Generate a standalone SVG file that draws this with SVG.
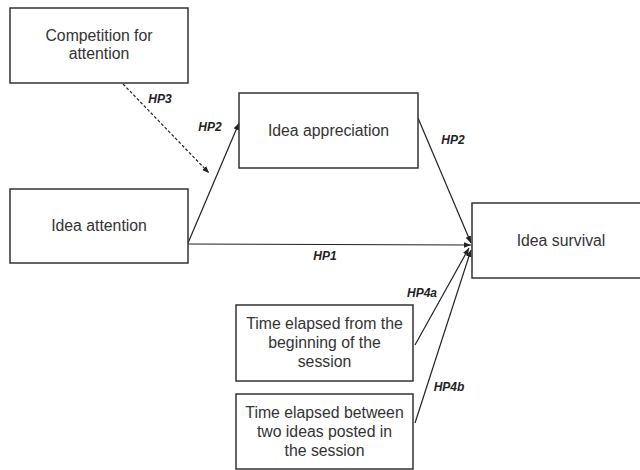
<svg xmlns="http://www.w3.org/2000/svg" width="640" height="470" viewBox="0 0 640 470">
<style>
.box{fill:#fff;stroke:#333;stroke-width:1.5}
.t{font-family:"Liberation Sans",Arial,sans-serif;font-size:15.8px;fill:#333;text-anchor:middle}
.lab{font-family:"Liberation Sans",Arial,sans-serif;font-size:12px;font-weight:bold;font-style:italic;fill:#222;text-anchor:middle}
.ln{stroke:#222;stroke-width:1.2;fill:none}
</style>
<defs>
<marker id="ah" viewBox="0 0 10 10" refX="10" refY="5" markerWidth="7" markerHeight="7" orient="auto" markerUnits="userSpaceOnUse">
<path d="M0,1 L10,5 L0,9 Z" fill="#222"/>
</marker>
</defs>
<rect width="640" height="470" fill="#fff"/>
<g id="connectors">
<line class="ln" x1="123" y1="84" x2="209" y2="173" stroke-dasharray="3,2" marker-end="url(#ah)"/>
<line class="ln" x1="188" y1="243" x2="239" y2="123" marker-end="url(#ah)"/>
<line class="ln" x1="418" y1="118" x2="471" y2="243" marker-end="url(#ah)"/>
<line class="ln" x1="188" y1="244" x2="471" y2="245" marker-end="url(#ah)"/>
<line class="ln" x1="415" y1="345" x2="469" y2="248" marker-end="url(#ah)"/>
<line class="ln" x1="415" y1="423" x2="471" y2="250" marker-end="url(#ah)"/>
<text class="lab" x="160" y="103">HP3</text>
<text class="lab" x="210" y="131">HP2</text>
<text class="lab" x="453" y="144">HP2</text>
<text class="lab" x="325" y="260">HP1</text>
<text class="lab" x="422" y="297">HP4a</text>
<text class="lab" x="449" y="391">HP4b</text>
</g>
<g id="competition">
<rect class="box" x="10" y="8" width="178" height="75"/>
<text class="t" x="99" y="41">Competition for</text>
<text class="t" x="99" y="59">attention</text>
</g>
<g id="attention">
<rect class="box" x="10" y="189" width="178" height="74"/>
<text class="t" x="99" y="231">Idea attention</text>
</g>
<g id="appreciation">
<rect class="box" x="239" y="93" width="179" height="75"/>
<text class="t" x="328.5" y="136">Idea appreciation</text>
</g>
<g id="survival">
<rect class="box" x="472" y="203" width="180" height="75"/>
<text class="t" x="561" y="246">Idea survival</text>
</g>
<g id="time1">
<rect class="box" x="236" y="305" width="177" height="76"/>
<text class="t" x="324.5" y="329">Time elapsed from the</text>
<text class="t" x="324.5" y="348">beginning of the</text>
<text class="t" x="324.5" y="367">session</text>
</g>
<g id="time2">
<rect class="box" x="236" y="394" width="177" height="75"/>
<text class="t" x="324.5" y="418">Time elapsed between</text>
<text class="t" x="324.5" y="437">two ideas posted in</text>
<text class="t" x="324.5" y="456">the session</text>
</g>
</svg>
